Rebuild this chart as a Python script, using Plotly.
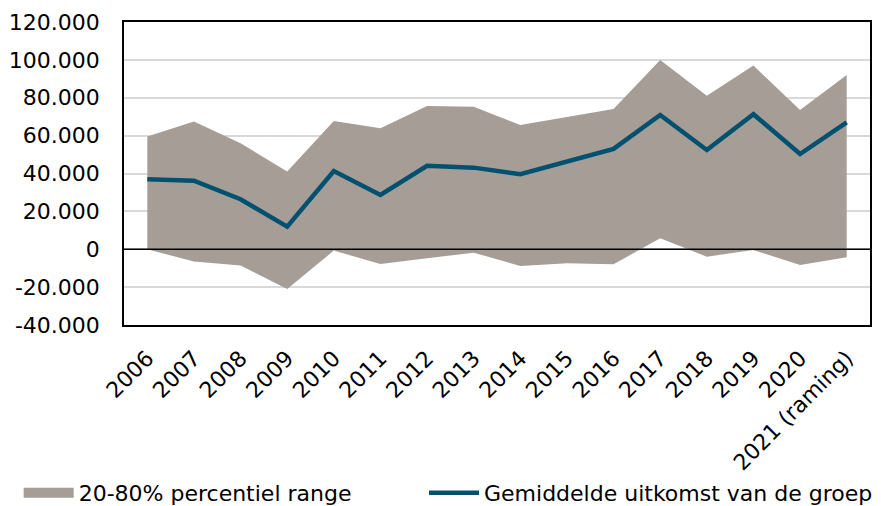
import plotly.graph_objects as go

years = ["2006", "2007", "2008", "2009", "2010", "2011", "2012", "2013", "2014",
         "2015", "2016", "2017", "2018", "2019", "2020", "2021 (raming)"]
p80 = [59500, 67400, 56000, 41000, 67700, 63900, 75700, 75300, 65600,
       70000, 74000, 100000, 81000, 97000, 73500, 92000]
p20 = [0, -6500, -8600, -21000, -700, -7800, -4800, -1800, -8800,
       -7400, -7900, 5800, -3900, -400, -8300, -4200]
mean = [37000, 36200, 26400, 11900, 41300, 28700, 44100, 43100, 39600,
        46300, 53000, 70900, 52400, 71300, 50300, 67000]

ytick_vals = [-40000, -20000, 0, 20000, 40000, 60000, 80000, 100000, 120000]
ytick_text = ["-40.000", "-20.000", "0", "20.000", "40.000", "60.000",
              "80.000", "100.000", "120.000"]

FONT = "DejaVu Sans, Verdana, sans-serif"
FS = 22
GREY = "#a59d96"
fig = go.Figure()
fig.add_trace(go.Scatter(x=years, y=p20, mode="lines", line=dict(width=0),
                         showlegend=False, hoverinfo="skip"))
fig.add_trace(go.Scatter(x=years, y=p80, mode="lines", line=dict(width=0),
                         fill="tonexty", fillcolor=GREY, showlegend=False,
                         name="20-80% percentiel range"))
# legend-only entry (no data drawn) to get a box-like grey legend swatch
fig.add_trace(go.Scatter(x=[None], y=[None], mode="lines",
                         line=dict(color=GREY, width=13),
                         name="20-80% percentiel range", legend="legend"))
fig.add_trace(go.Scatter(x=years, y=mean, mode="lines",
                         line=dict(color="#005170", width=4.5),
                         name="Gemiddelde uitkomst van de groep", legend="legend2"))

fig.add_shape(type="line", xref="paper", x0=0, x1=1, yref="y", y0=0, y1=0,
              line=dict(color="black", width=1.5), layer="above")

leg_common = dict(orientation="v", xref="container", yref="container",
                  y=0.0415, xanchor="left", yanchor="middle",
                  font=dict(size=FS, family=FONT), itemwidth=50,
                  bgcolor="rgba(0,0,0,0)")
fig.update_layout(
    width=881, height=506,
    margin=dict(l=116, r=19, t=14, b=189, autoexpand=False),
    paper_bgcolor="white", plot_bgcolor="white",
    font=dict(family=FONT, size=FS, color="black"),
    legend=dict(x=0.0121, **leg_common),
    legend2=dict(x=0.4722, **leg_common),
)
fig.update_xaxes(type="category", range=[-0.5, 15.5], tickangle=-45, showgrid=False,
                 showline=True, linecolor="black", linewidth=1.5, mirror=True,
                 ticks="", tickfont=dict(size=FS), ticklabelstandoff=10,
                 automargin=False)
fig.update_yaxes(range=[-40000, 120000], tickvals=ytick_vals, ticktext=ytick_text,
                 showgrid=True, gridcolor="#d9d9d9", gridwidth=1.5,
                 zeroline=False,
                 showline=True, linecolor="black", linewidth=1.5, mirror=True,
                 ticks="", tickfont=dict(size=FS), ticklabelstandoff=18,
                 automargin=False)
fig.write_html("out.html")
